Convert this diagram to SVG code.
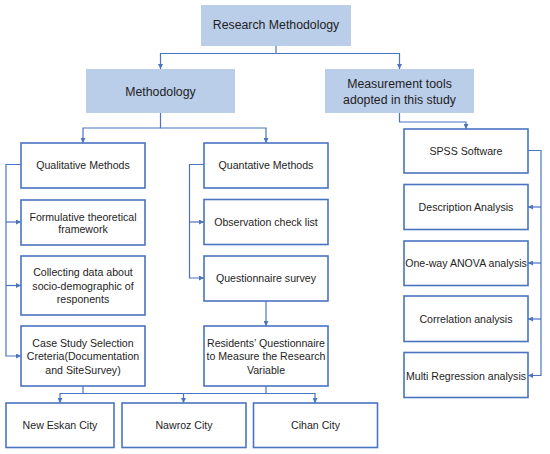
<svg xmlns="http://www.w3.org/2000/svg" width="550" height="454" viewBox="0 0 550 454">
<style>
.hd{fill:#bacde9;stroke:none}
.bx{fill:#ffffff;stroke:#4a74c2;stroke-width:1.6}
.t{font-family:"Liberation Sans",Arial,sans-serif;font-size:10.6px;fill:#1e1e1e;text-anchor:middle}
.th{font-family:"Liberation Sans",Arial,sans-serif;font-size:12.3px;fill:#1e1e1e;text-anchor:middle}
.c{fill:none;stroke:#4a74c2;stroke-width:1.2}
</style>
<defs>
<marker id="ar" viewBox="0 0 6 6" refX="6" refY="3" markerWidth="5" markerHeight="5" markerUnits="userSpaceOnUse" orient="auto">
<path d="M0,0 L6,3 L0,6 z" fill="#4a74c2"/>
</marker>
</defs>
<rect width="550" height="454" fill="#ffffff"/>
<g id="connectors">
<path class="c" d="M276,46 V53.5 H160.5 V69" marker-end="url(#ar)"/>
<path class="c" d="M276,53.5 H399.5 V69" marker-end="url(#ar)"/>
<path class="c" d="M160.5,113 V128 H83 V143" marker-end="url(#ar)"/>
<path class="c" d="M160.5,128 H266 V143" marker-end="url(#ar)"/>
<path class="c" d="M399.5,113 V122 H466 V129" marker-end="url(#ar)"/>
<path class="c" d="M21,164.5 H6 V356 H21" marker-end="url(#ar)"/>
<path class="c" d="M6,222 H21" marker-end="url(#ar)"/>
<path class="c" d="M6,285.5 H21" marker-end="url(#ar)"/>
<path class="c" d="M204,164.5 H189.5 V278 H204" marker-end="url(#ar)"/>
<path class="c" d="M189.5,222 H204" marker-end="url(#ar)"/>
<path class="c" d="M266,301 V326" marker-end="url(#ar)"/>
<path class="c" d="M83,386 V393.5 H60 V403" marker-end="url(#ar)"/>
<path class="c" d="M83,393.5 H183.5 V403" marker-end="url(#ar)"/>
<path class="c" d="M266,386 V393.5 H315 V403" marker-end="url(#ar)"/>
<path class="c" d="M266,393.5 H183.5"/>
<path class="c" d="M528,150.5 H541 V375.5 H528" marker-end="url(#ar)"/>
<path class="c" d="M541,207 H528" marker-end="url(#ar)"/>
<path class="c" d="M541,263 H528" marker-end="url(#ar)"/>
<path class="c" d="M541,319 H528" marker-end="url(#ar)"/>
</g>
<g id="research-methodology"><rect class="hd" x="201" y="5" width="150" height="41"/><text class="th" x="276" y="28.5">Research Methodology</text></g>
<g id="methodology"><rect class="hd" x="86" y="69" width="149" height="44"/><text class="th" x="160.5" y="96">Methodology</text></g>
<g id="measurement-tools"><rect class="hd" x="325" y="69" width="149" height="44"/><text class="th" x="399.5" y="87.5">Measurement tools</text><text class="th" x="399.5" y="104">adopted in this study</text></g>
<g id="qualitative"><rect class="bx" x="21" y="143" width="124" height="45"/><text class="t" x="83" y="168.8">Qualitative Methods</text></g>
<g id="formulative"><rect class="bx" x="21" y="200" width="124" height="45"/><text class="t" x="83" y="220.5">Formulative theoretical</text><text class="t" x="83" y="233">framework</text></g>
<g id="collecting"><rect class="bx" x="21" y="256" width="124" height="59"/><text class="t" x="83" y="276.3">Collecting data about</text><text class="t" x="83" y="289.8">socio-demographic of</text><text class="t" x="83" y="303.3">responents</text></g>
<g id="case-study"><rect class="bx" x="21" y="326" width="124" height="60"/><text class="t" x="83" y="346.5">Case Study Selection</text><text class="t" x="83" y="360.3">Creteria(Documentation</text><text class="t" x="83" y="374">and SiteSurvey)</text></g>
<g id="quantative"><rect class="bx" x="204" y="143" width="124" height="45"/><text class="t" x="266" y="168.8">Quantative Methods</text></g>
<g id="observation"><rect class="bx" x="204" y="199.5" width="124" height="45"/><text class="t" x="266" y="225.5">Observation check list</text></g>
<g id="questionnaire"><rect class="bx" x="204" y="256" width="124" height="45"/><text class="t" x="266" y="281.5">Questionnaire survey</text></g>
<g id="residents"><rect class="bx" x="204" y="326" width="124" height="60"/><text class="t" x="266" y="346.5">Residents’ Questionnaire</text><text class="t" x="266" y="360.3">to Measure the Research</text><text class="t" x="266" y="374">Variable</text></g>
<g id="spss"><rect class="bx" x="404" y="129" width="124" height="44"/><text class="t" x="466" y="154.8">SPSS Software</text></g>
<g id="description"><rect class="bx" x="404" y="184.5" width="124" height="45"/><text class="t" x="466" y="211">Description Analysis</text></g>
<g id="anova"><rect class="bx" x="404" y="241" width="124" height="44.5"/><text class="t" x="466" y="267">One-way ANOVA analysis</text></g>
<g id="correlation"><rect class="bx" x="404" y="296" width="124" height="45.5"/><text class="t" x="466" y="322.8">Correlation analysis</text></g>
<g id="multi-regression"><rect class="bx" x="404" y="352.5" width="124" height="45"/><text class="t" x="466" y="379.5">Multi Regression analysis</text></g>
<g id="new-eskan"><rect class="bx" x="6" y="403" width="108" height="44.5"/><text class="t" x="60" y="428.8">New Eskan City</text></g>
<g id="nawroz"><rect class="bx" x="122" y="403" width="124" height="44.5"/><text class="t" x="184" y="428.8">Nawroz City</text></g>
<g id="cihan"><rect class="bx" x="253.5" y="403" width="124" height="44.5"/><text class="t" x="315.5" y="428.8">Cihan City</text></g>
</svg>
